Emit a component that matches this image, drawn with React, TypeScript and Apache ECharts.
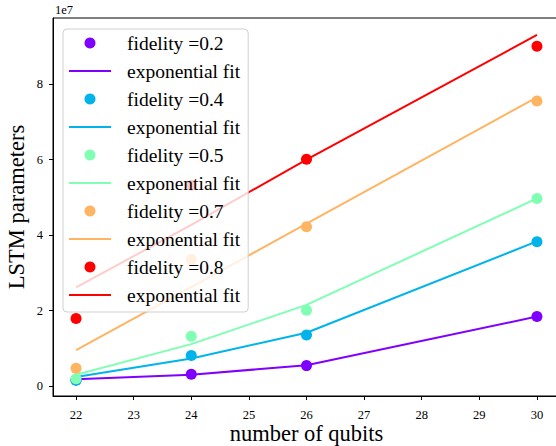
import React, { useEffect, useRef } from "react";
import * as echarts from "echarts";

const qubits = [22, 24, 26, 30];
const xTicks = [22, 23, 24, 25, 26, 27, 28, 29, 30];
const yTicks = [0, 2e7, 4e7, 6e7, 8e7];

const fidelities = ["0.2", "0.4", "0.5", "0.7", "0.8"];
const colors = ["#8000ff", "#00b4eb", "#80ffb4", "#ffb462", "#ff0000"];

const pts02 = [0.16e7, 0.31e7, 0.54e7, 1.84e7];
const fit02 = [0.18e7, 0.3e7, 0.55e7, 1.84e7];
const pts04 = [0.15e7, 0.81e7, 1.35e7, 3.82e7];
const fit04 = [0.24e7, 0.73e7, 1.41e7, 3.83e7];
const pts05 = [0.19e7, 1.32e7, 2.01e7, 4.97e7];
const fit05 = [0.3e7, 1.11e7, 2.15e7, 4.97e7];
const pts07 = [0.47e7, 3.36e7, 4.22e7, 7.55e7];
const fit07 = [0.95e7, 2.62e7, 4.3e7, 7.65e7];
const pts08 = [1.79e7, 5.32e7, 6.01e7, 9.0e7];
const fit08 = [2.61e7, 4.27e7, 6.0e7, 9.3e7];

const allPts = [pts02, pts04, pts05, pts07, pts08];
const allFits = [fit02, fit04, fit05, fit07, fit08];

const FONT = "Liberation Serif";

export default function App() {
  const ref = useRef<HTMLDivElement>(null);
  useEffect(() => {
    if (!ref.current) return;
    const chart = echarts.init(ref.current, null, { renderer: "svg" });
    const series: any[] = [];
    const legendData: any[] = [];
    fidelities.forEach((f, i) => {
      const name = `fidelity =${f}`;
      const fitName = `exponential fit` + "\u200b".repeat(i);
      series.push({
        type: "scatter",
        name,
        data: qubits.map((q, k) => [q, allPts[i][k]]),
        symbol: "circle",
        symbolSize: 11,
        itemStyle: { color: colors[i], opacity: 1 },
        z: 2 + i * 2,
      });
      series.push({
        type: "line",
        name: fitName,
        data: qubits.map((q, k) => [q, allFits[i][k]]),
        symbol: "none",
        lineStyle: { color: colors[i], width: 2 },
        itemStyle: { color: colors[i] },
        z: 3 + i * 2,
      });
      legendData.push({ name, icon: "circle" });
      legendData.push({ name: fitName, icon: "path://M0,0h40v2h-40z" });
    });

    chart.setOption({
      animation: false,
      textStyle: { fontFamily: FONT },
      grid: {
        left: 53,
        top: 18,
        right: -4,
        bottom: 50,
        outerBoundsMode: "none",
        containLabel: false,
        show: true,
        borderColor: "#000",
        borderWidth: 1,
        backgroundColor: "transparent",
      },
      legend: {
        orient: "vertical",
        left: 63,
        top: 29,
        data: legendData,
        itemWidth: 42,
        itemHeight: 11,
        itemGap: 4,
        padding: [2, 8, 5, 6],
        backgroundColor: "rgba(255,255,255,0.8)",
        borderColor: "#d0d0d0",
        borderWidth: 1,
        borderRadius: 4,
        selectedMode: false,
        z: 20,
        textStyle: {
          fontFamily: FONT,
          fontSize: 19.5,
          color: "#000",
          lineHeight: 24,
          padding: [0, 0, 0, 11],
        },
      },
      xAxis: {
        type: "value",
        min: 21.6,
        max: 30.4,
        splitLine: { show: false },
        axisLine: { show: true, onZero: false, lineStyle: { color: "#000", width: 1 } },
        axisTick: { show: true, customValues: xTicks, length: 4, lineStyle: { color: "#000" } },
        axisLabel: {
          customValues: xTicks,
          fontFamily: FONT,
          fontSize: 12.5,
          lineHeight: 13,
          color: "#000",
          margin: 12,
        },
        name: "number of qubits",
        nameLocation: "middle",
        nameGap: 27,
        nameMoveOverlap: false,
        nameTextStyle: { fontFamily: FONT, fontSize: 22.5, lineHeight: 20, color: "#000" },
      },
      yAxis: {
        type: "value",
        min: -0.265e7,
        max: 9.75e7,
        splitLine: { show: false },
        axisLine: { show: true, onZero: false, lineStyle: { color: "#000", width: 1 } },
        axisTick: { show: true, customValues: yTicks, length: 4, lineStyle: { color: "#000" } },
        axisLabel: {
          customValues: yTicks,
          formatter: (v: number) => String(Math.round(v / 1e7)),
          fontFamily: FONT,
          fontSize: 12.5,
          color: "#000",
          margin: 10,
        },
        name: "LSTM parameters",
        nameLocation: "middle",
        nameGap: 25,
        nameMoveOverlap: false,
        nameTextStyle: { fontFamily: FONT, fontSize: 22.5, color: "#000" },
      },
      graphic: [
        {
          type: "text",
          left: 55,
          top: 3,
          style: { text: "1e7", fontFamily: FONT, fontSize: 12.5, fill: "#000" },
        },
      ],
      series,
    });
    return () => chart.dispose();
  }, []);
  return <div ref={ref} style={{ width: 556, height: 446, position: "absolute", left: 0, top: 0 }} />;
}
